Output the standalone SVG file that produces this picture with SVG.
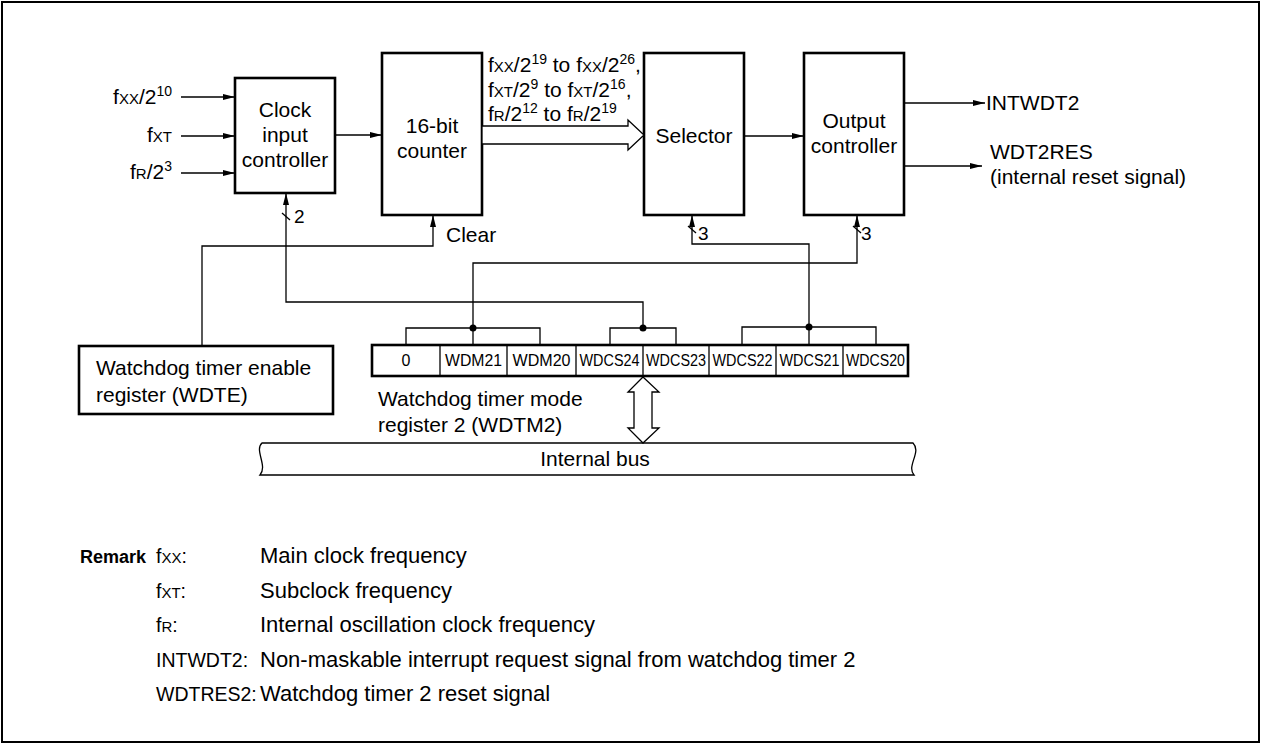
<svg xmlns="http://www.w3.org/2000/svg" width="1261" height="744" viewBox="0 0 1261 744">
<defs>
<style>
text{font-family:"Liberation Sans",Arial,sans-serif;font-size:21px;fill:#000}
.c{text-anchor:middle}
.e{text-anchor:end}
.sc{font-size:15px}
.sup{font-size:14px}
.reg{font-size:16px;text-anchor:middle}
.box{fill:#fff;stroke:#000;stroke-width:2.6}
.ln{fill:none;stroke:#000;stroke-width:1.3}
.b{font-weight:bold;font-size:18px}
.rd{font-size:22px}
.rl{font-size:19.5px}
</style>
<marker id="ah" markerUnits="userSpaceOnUse" markerWidth="13" markerHeight="8" refX="12" refY="3" orient="auto">
<path d="M0,0 L12,3 L0,6 z" fill="#000"/>
</marker>
</defs>
<rect x="2" y="2" width="1257" height="740" fill="#fff" stroke="#000" stroke-width="2"/>

<g id="inputs">
<text x="172" y="104" class="e">f<tspan class="sc">XX</tspan>/2<tspan class="sup" dy="-8">10</tspan></text>
<text x="172" y="142" class="e">f<tspan class="sc">XT</tspan></text>
<text x="172" y="179" class="e">f<tspan class="sc">R</tspan>/2<tspan class="sup" dy="-8">3</tspan></text>
</g>

<g id="clock-input-controller">
<rect class="box" x="235" y="78" width="100" height="115"/>
<text x="285" y="117" class="c">Clock</text>
<text x="285" y="142" class="c">input</text>
<text x="285" y="167" class="c">controller</text>
</g>

<g id="counter">
<rect class="box" x="382" y="53" width="100" height="162"/>
<text x="432" y="133" class="c">16-bit</text>
<text x="432" y="158" class="c">counter</text>
</g>

<g id="counter-output-label">
<text x="488" y="72">f<tspan class="sc">XX</tspan>/2<tspan class="sup" dy="-8">19</tspan><tspan dy="8"> to f</tspan><tspan class="sc">XX</tspan>/2<tspan class="sup" dy="-8">26</tspan><tspan dy="8">,</tspan></text>
<text x="488" y="97">f<tspan class="sc">XT</tspan>/2<tspan class="sup" dy="-8">9</tspan><tspan dy="8"> to f</tspan><tspan class="sc">XT</tspan>/2<tspan class="sup" dy="-8">16</tspan><tspan dy="8">,</tspan></text>
<text x="488" y="121">f<tspan class="sc">R</tspan>/2<tspan class="sup" dy="-8">12</tspan><tspan dy="8"> to f</tspan><tspan class="sc">R</tspan>/2<tspan class="sup" dy="-8">19</tspan></text>
</g>

<g id="selector">
<rect class="box" x="644" y="53" width="100" height="162"/>
<text x="694" y="143" class="c">Selector</text>
</g>

<g id="output-controller">
<rect class="box" x="804" y="53" width="100" height="162"/>
<text x="854" y="128" class="c">Output</text>
<text x="854" y="153" class="c">controller</text>
</g>

<g id="outputs">
<text x="986" y="110">INTWDT2</text>
<text x="990" y="159">WDT2RES</text>
<text x="990" y="184">(internal reset signal)</text>
</g>

<g id="wdte">
<rect class="box" x="79" y="346" width="254" height="68"/>
<text x="96" y="375">Watchdog timer enable</text>
<text x="96" y="402">register (WDTE)</text>
</g>

<g id="wdtm2">
<rect class="box" x="372" y="345" width="536" height="31"/>
<g class="ln">
<line x1="440" y1="345" x2="440" y2="376"/>
<line x1="507" y1="345" x2="507" y2="376"/>
<line x1="576" y1="345" x2="576" y2="376"/>
<line x1="643" y1="345" x2="643" y2="376"/>
<line x1="709" y1="345" x2="709" y2="376"/>
<line x1="776" y1="345" x2="776" y2="376"/>
<line x1="843" y1="345" x2="843" y2="376"/>
</g>
<text x="406" y="366" class="reg">0</text>
<text x="473.5" y="366" class="reg" textLength="57" lengthAdjust="spacingAndGlyphs">WDM21</text>
<text x="541.5" y="366" class="reg" textLength="58" lengthAdjust="spacingAndGlyphs">WDM20</text>
<text x="609.5" y="366" class="reg" textLength="60" lengthAdjust="spacingAndGlyphs">WDCS24</text>
<text x="676" y="366" class="reg" textLength="60" lengthAdjust="spacingAndGlyphs">WDCS23</text>
<text x="742.5" y="366" class="reg" textLength="60" lengthAdjust="spacingAndGlyphs">WDCS22</text>
<text x="809.5" y="366" class="reg" textLength="60" lengthAdjust="spacingAndGlyphs">WDCS21</text>
<text x="875.5" y="366" class="reg" textLength="59" lengthAdjust="spacingAndGlyphs">WDCS20</text>
<text x="378" y="406">Watchdog timer mode</text>
<text x="378" y="432">register 2 (WDTM2)</text>
</g>

<g id="internal-bus">
<path class="ln" d="M262,443 L913,443 C922,452 906,466 914,475 L260,475 C268,466 254,450 262,443 Z" fill="#fff"/>
<text x="595" y="466" class="c">Internal bus</text>
</g>

<g id="connectors">
<g class="ln">
<line x1="181" y1="97" x2="235" y2="97" marker-end="url(#ah)"/>
<line x1="181" y1="136" x2="235" y2="136" marker-end="url(#ah)"/>
<line x1="181" y1="173" x2="235" y2="173" marker-end="url(#ah)"/>
<line x1="335" y1="135" x2="382" y2="135" marker-end="url(#ah)"/>
<line x1="744" y1="136" x2="804" y2="136" marker-end="url(#ah)"/>
<line x1="904" y1="103" x2="985" y2="103" marker-end="url(#ah)"/>
<line x1="904" y1="166" x2="982" y2="166" marker-end="url(#ah)"/>
<polyline points="202,346 202,246 433,246 433,215" marker-end="url(#ah)"/>
<polyline points="643,328 643,302 286,302 286,193" marker-end="url(#ah)"/>
<polyline points="809,345 809,244 692,244 692,215" marker-end="url(#ah)"/>
<polyline points="473,345 473,263 857,263 857,215" marker-end="url(#ah)"/>
<polyline points="406,345 406,328 540,328 540,345"/>
<polyline points="610,345 610,328 676,328 676,345"/>
<polyline points="742,345 742,327 876,327 876,345"/>
<line x1="282" y1="213" x2="290" y2="220"/>
<line x1="688" y1="226" x2="696" y2="233"/>
<line x1="853" y1="226" x2="861" y2="233"/>
</g>
<circle cx="473" cy="328" r="3.5"/>
<circle cx="643" cy="328" r="3.5"/>
<circle cx="809" cy="327" r="3.5"/>
<polygon points="482,126 628,126 628,120 644,135 628,150 628,144 482,144" fill="#fff" stroke="#000" stroke-width="1.3"/>
<polygon points="643,377 659,392 652,392 652,428 659,428 643,443 628,428 634,428 634,392 628,392" fill="#fff" stroke="#000" stroke-width="1.3"/>
<text x="294" y="223" style="font-size:19px">2</text>
<text x="698" y="240" style="font-size:19px">3</text>
<text x="861" y="240" style="font-size:19px">3</text>
<text x="446" y="242">Clear</text>
</g>

<g id="remark">
<text x="80" y="563" class="b">Remark</text>
<text x="156" y="563" class="rl">f<tspan class="sc">XX</tspan>:</text>
<text x="260" y="563" class="rd">Main clock frequency</text>
<text x="156" y="598" class="rl">f<tspan class="sc">XT</tspan>:</text>
<text x="260" y="598" class="rd">Subclock frequency</text>
<text x="156" y="632" class="rl">f<tspan class="sc">R</tspan>:</text>
<text x="260" y="632" class="rd">Internal oscillation clock frequency</text>
<text x="156" y="667" class="rl">INTWDT2:</text>
<text x="260" y="667" class="rd">Non-maskable interrupt request signal from watchdog timer 2</text>
<text x="156" y="701" class="rl">WDTRES2:</text>
<text x="260" y="701" class="rd">Watchdog timer 2 reset signal</text>
</g>
</svg>
